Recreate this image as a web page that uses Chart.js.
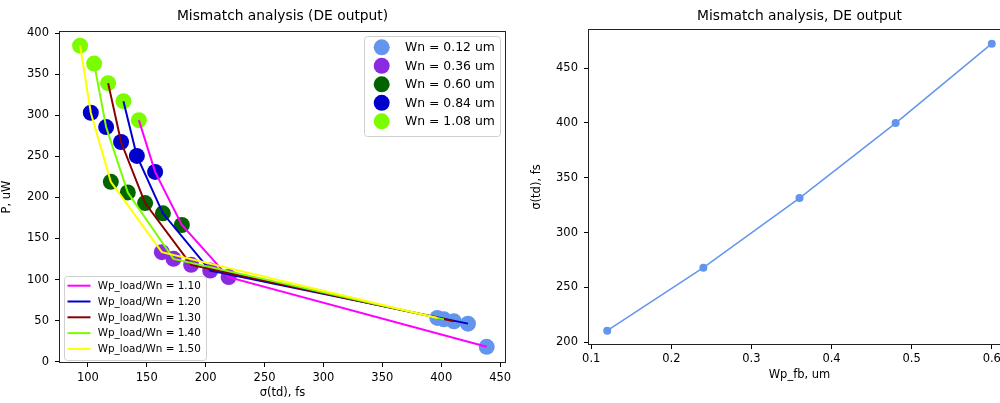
<!DOCTYPE html>
<html>
<head>
<meta charset="utf-8">
<script src="https://cdn.jsdelivr.net/npm/chart.js@4.4.1/dist/chart.umd.min.js"></script>
<style>
    body { margin: 0; width: 1000px; height: 403px; overflow: hidden; position: relative; background: #fff; }
    .panel { position: absolute; top: 0; }
</style>
</head>
<body>
<div class="panel" style="left:0"><canvas id="leftChart" width="530" height="403"></canvas></div>
<div class="panel" style="left:530px"><canvas id="rightChart" width="500" height="403"></canvas></div>
<script>
// Left panel: scatter groups (one per Wn) and curves (one per Wp_load/Wn ratio)
const wnLabels = ['Wn = 0.12 um', 'Wn = 0.36 um', 'Wn = 0.60 um', 'Wn = 0.84 um', 'Wn = 1.08 um'];
const ratioLabels = ['Wp_load/Wn = 1.10', 'Wp_load/Wn = 1.20', 'Wp_load/Wn = 1.30', 'Wp_load/Wn = 1.40', 'Wp_load/Wn = 1.50'];

// sigma(td), fs and P, uW for each Wn, one value per ratio (1.10 ... 1.50)
const sigmaWn012 = [438.6, 422.7, 410.8, 402.3, 396.7];
const powerWn012 = [18.2, 46.4, 49.2, 51.6, 53.3];
const sigmaWn036 = [219.5, 203.9, 187.7, 172.7, 162.8];
const powerWn036 = [103.0, 111.0, 117.9, 125.2, 133.3];
const sigmaWn060 = [179.8, 163.7, 148.6, 133.9, 119.5];
const powerWn060 = [166.4, 180.6, 193.1, 206.0, 218.9];
const sigmaWn084 = [157.1, 141.6, 128.2, 115.5, 102.5];
const powerWn084 = [231.0, 250.4, 267.4, 285.6, 303.0];
const sigmaWn108 = [143.3, 130.2, 117.2, 105.3, 93.4];
const powerWn108 = [294.0, 317.1, 339.0, 362.8, 384.6];

// Right panel
const wpFb = [0.12, 0.24, 0.36, 0.48, 0.60];
const sigmaFb = [210.6, 268.0, 331.4, 399.8, 472.2];

const wnColors = ['#6495ed', '#8a2be2', '#006400', '#0000cd', '#7cfc00'];
const ratioColors = ['#ff00ff', '#0000cd', '#8b0000', '#7cfc00', '#ffff00'];

Chart.defaults.font.family = 'DejaVu Sans';
Chart.defaults.color = '#000';

const sigmaByWn = [sigmaWn012, sigmaWn036, sigmaWn060, sigmaWn084, sigmaWn108];
const powerByWn = [powerWn012, powerWn036, powerWn060, powerWn084, powerWn108];

function frame(color) {
    return {
        id: 'frame',
        afterDatasetsDraw(chart) {
            const a = chart.chartArea, ctx = chart.ctx;
            ctx.save();
            ctx.strokeStyle = color;
            ctx.lineWidth = 1;
            ctx.strokeRect(Math.round(a.left) + 0.5, Math.round(a.top) + 0.5,
                Math.round(a.right - a.left) - 1, Math.round(a.bottom - a.top) - 1);
            ctx.restore();
        }
    };
}

function legendBox(ctx, x, y, w, h) {
    ctx.save();
    ctx.fillStyle = 'rgba(255,255,255,0.8)';
    ctx.strokeStyle = '#d0d0d0';
    ctx.lineWidth = 1;
    ctx.beginPath();
    ctx.roundRect(x + 0.5, y + 0.5, w, h, 3);
    ctx.fill();
    ctx.stroke();
    ctx.restore();
}

const legends = {
    id: 'legends',
    afterDraw(chart) {
        const ctx = chart.ctx;
        // Wn markers legend (upper right)
        legendBox(ctx, 364, 36, 136, 100);
        ctx.save();
        ctx.textBaseline = 'middle';
        ctx.fillStyle = '#000';
        ctx.font = '12.4px "DejaVu Sans"';
        wnLabels.forEach((label, i) => {
            const y = 47.3 + i * 18.5;
            ctx.beginPath();
            ctx.fillStyle = wnColors[i];
            ctx.arc(381.7, y, 8, 0, Math.PI * 2);
            ctx.fill();
            ctx.fillStyle = '#000';
            ctx.fillText(label, 405, y + 0.5);
        });
        ctx.restore();
        // ratio curves legend (lower left)
        legendBox(ctx, 64, 276, 142, 84);
        ctx.save();
        ctx.textBaseline = 'middle';
        ctx.font = '10.4px "DejaVu Sans"';
        ctx.lineWidth = 2;
        ratioLabels.forEach((label, i) => {
            const y = 285.7 + i * 15.8;
            ctx.strokeStyle = ratioColors[i];
            ctx.beginPath();
            ctx.moveTo(67.5, y);
            ctx.lineTo(90.5, y);
            ctx.stroke();
            ctx.fillStyle = '#000';
            ctx.fillText(label, 97.7, y + 0.5);
        });
        ctx.restore();
    }
};

const datasets = [];
// curves drawn above the markers; the 1.50 curve on top
ratioLabels.forEach((label, j) => {
    const pts = [];
    for (let w = wnLabels.length - 1; w >= 0; w--) {
        pts.push({x: sigmaByWn[w][j], y: powerByWn[w][j]});
    }
    datasets.push({
        label: label,
        data: pts,
        showLine: true,
        borderColor: ratioColors[j],
        borderWidth: 2,
        pointRadius: 0,
        tension: 0,
        order: 4 - j
    });
});
wnLabels.forEach((label, i) => {
    datasets.push({
        label: label,
        data: sigmaByWn[i].map((s, j) => ({x: s, y: powerByWn[i][j]})),
        backgroundColor: wnColors[i],
        borderColor: wnColors[i],
        borderWidth: 0,
        pointRadius: 8,
        showLine: false,
        order: 9 - i
    });
});

const tickFont = {size: 11.5};
const axisGrid = {drawOnChartArea: false, tickLength: 4, color: '#000', tickWidth: 1};

new Chart(document.getElementById('leftChart'), {
    type: 'scatter',
    data: {datasets: datasets},
    options: {
        responsive: false,
        animation: false,
        layout: {padding: {top: 0, right: 24, bottom: 0, left: 0}},
        plugins: {
            legend: {display: false},
            tooltip: {enabled: false},
            title: {
                display: true,
                text: 'Mismatch analysis (DE output)',
                fullSize: false,
                font: {size: 13.8, weight: 'normal'},
                color: '#000',
                padding: {top: 8, bottom: 6.4}
            }
        },
        scales: {
            x: {
                type: 'linear',
                min: 75.5,
                max: 455,
                afterFit: s => { s.height = 40; },
                ticks: {stepSize: 50, includeBounds: false, padding: 4, font: tickFont, color: '#000'},
                grid: axisGrid,
                border: {display: false},
                title: {display: true, text: 'σ(td), fs', font: {size: 11.5}, color: '#000', padding: {top: 0, bottom: 3}}
            },
            y: {
                type: 'linear',
                min: -1.5,
                max: 402.5,
                afterFit: s => { s.width = 59; },
                ticks: {stepSize: 50, includeBounds: false, padding: 6, font: tickFont, color: '#000'},
                grid: axisGrid,
                border: {display: false},
                title: {display: true, text: 'P, uW', font: {size: 11.5}, color: '#000', padding: {top: 0, bottom: 0, left: 0}}
            }
        }
    },
    plugins: [frame('#222'), legends]
});

new Chart(document.getElementById('rightChart'), {
    type: 'line',
    data: {
        datasets: [{
            label: 'sigma(td)',
            data: wpFb.map((w, i) => ({x: w, y: sigmaFb[i]})),
            borderColor: '#6495ed',
            backgroundColor: '#6495ed',
            borderWidth: 1.5,
            pointRadius: 4,
            pointBorderWidth: 0,
            tension: 0
        }]
    },
    options: {
        responsive: false,
        animation: false,
        layout: {padding: {top: 0, right: 19, bottom: 18, left: 0}},
        plugins: {
            legend: {display: false},
            tooltip: {enabled: false},
            title: {
                display: true,
                text: 'Mismatch analysis, DE output',
                fullSize: false,
                font: {size: 13.8, weight: 'normal'},
                color: '#000',
                padding: {top: 8, bottom: 4.4}
            }
        },
        scales: {
            x: {
                type: 'linear',
                min: 0.096,
                max: 0.624,
                afterFit: s => { s.height = 40; },
                ticks: {stepSize: 0.1, includeBounds: false, padding: 3, font: tickFont, color: '#000'},
                grid: axisGrid,
                border: {display: false},
                title: {display: true, text: 'Wp_fb, um', font: {size: 11.5}, color: '#000', padding: {top: 0, bottom: 3}}
            },
            y: {
                type: 'linear',
                min: 197.5,
                max: 485.6,
                afterFit: s => { s.width = 58; },
                ticks: {stepSize: 50, includeBounds: false, padding: 6, font: tickFont, color: '#000'},
                grid: axisGrid,
                border: {display: false},
                title: {display: true, text: 'σ(td), fs', font: {size: 11.5}, color: '#000', padding: {top: 0, bottom: 0}}
            }
        }
    },
    plugins: [frame('#222')]
});
</script>
</body>
</html>
